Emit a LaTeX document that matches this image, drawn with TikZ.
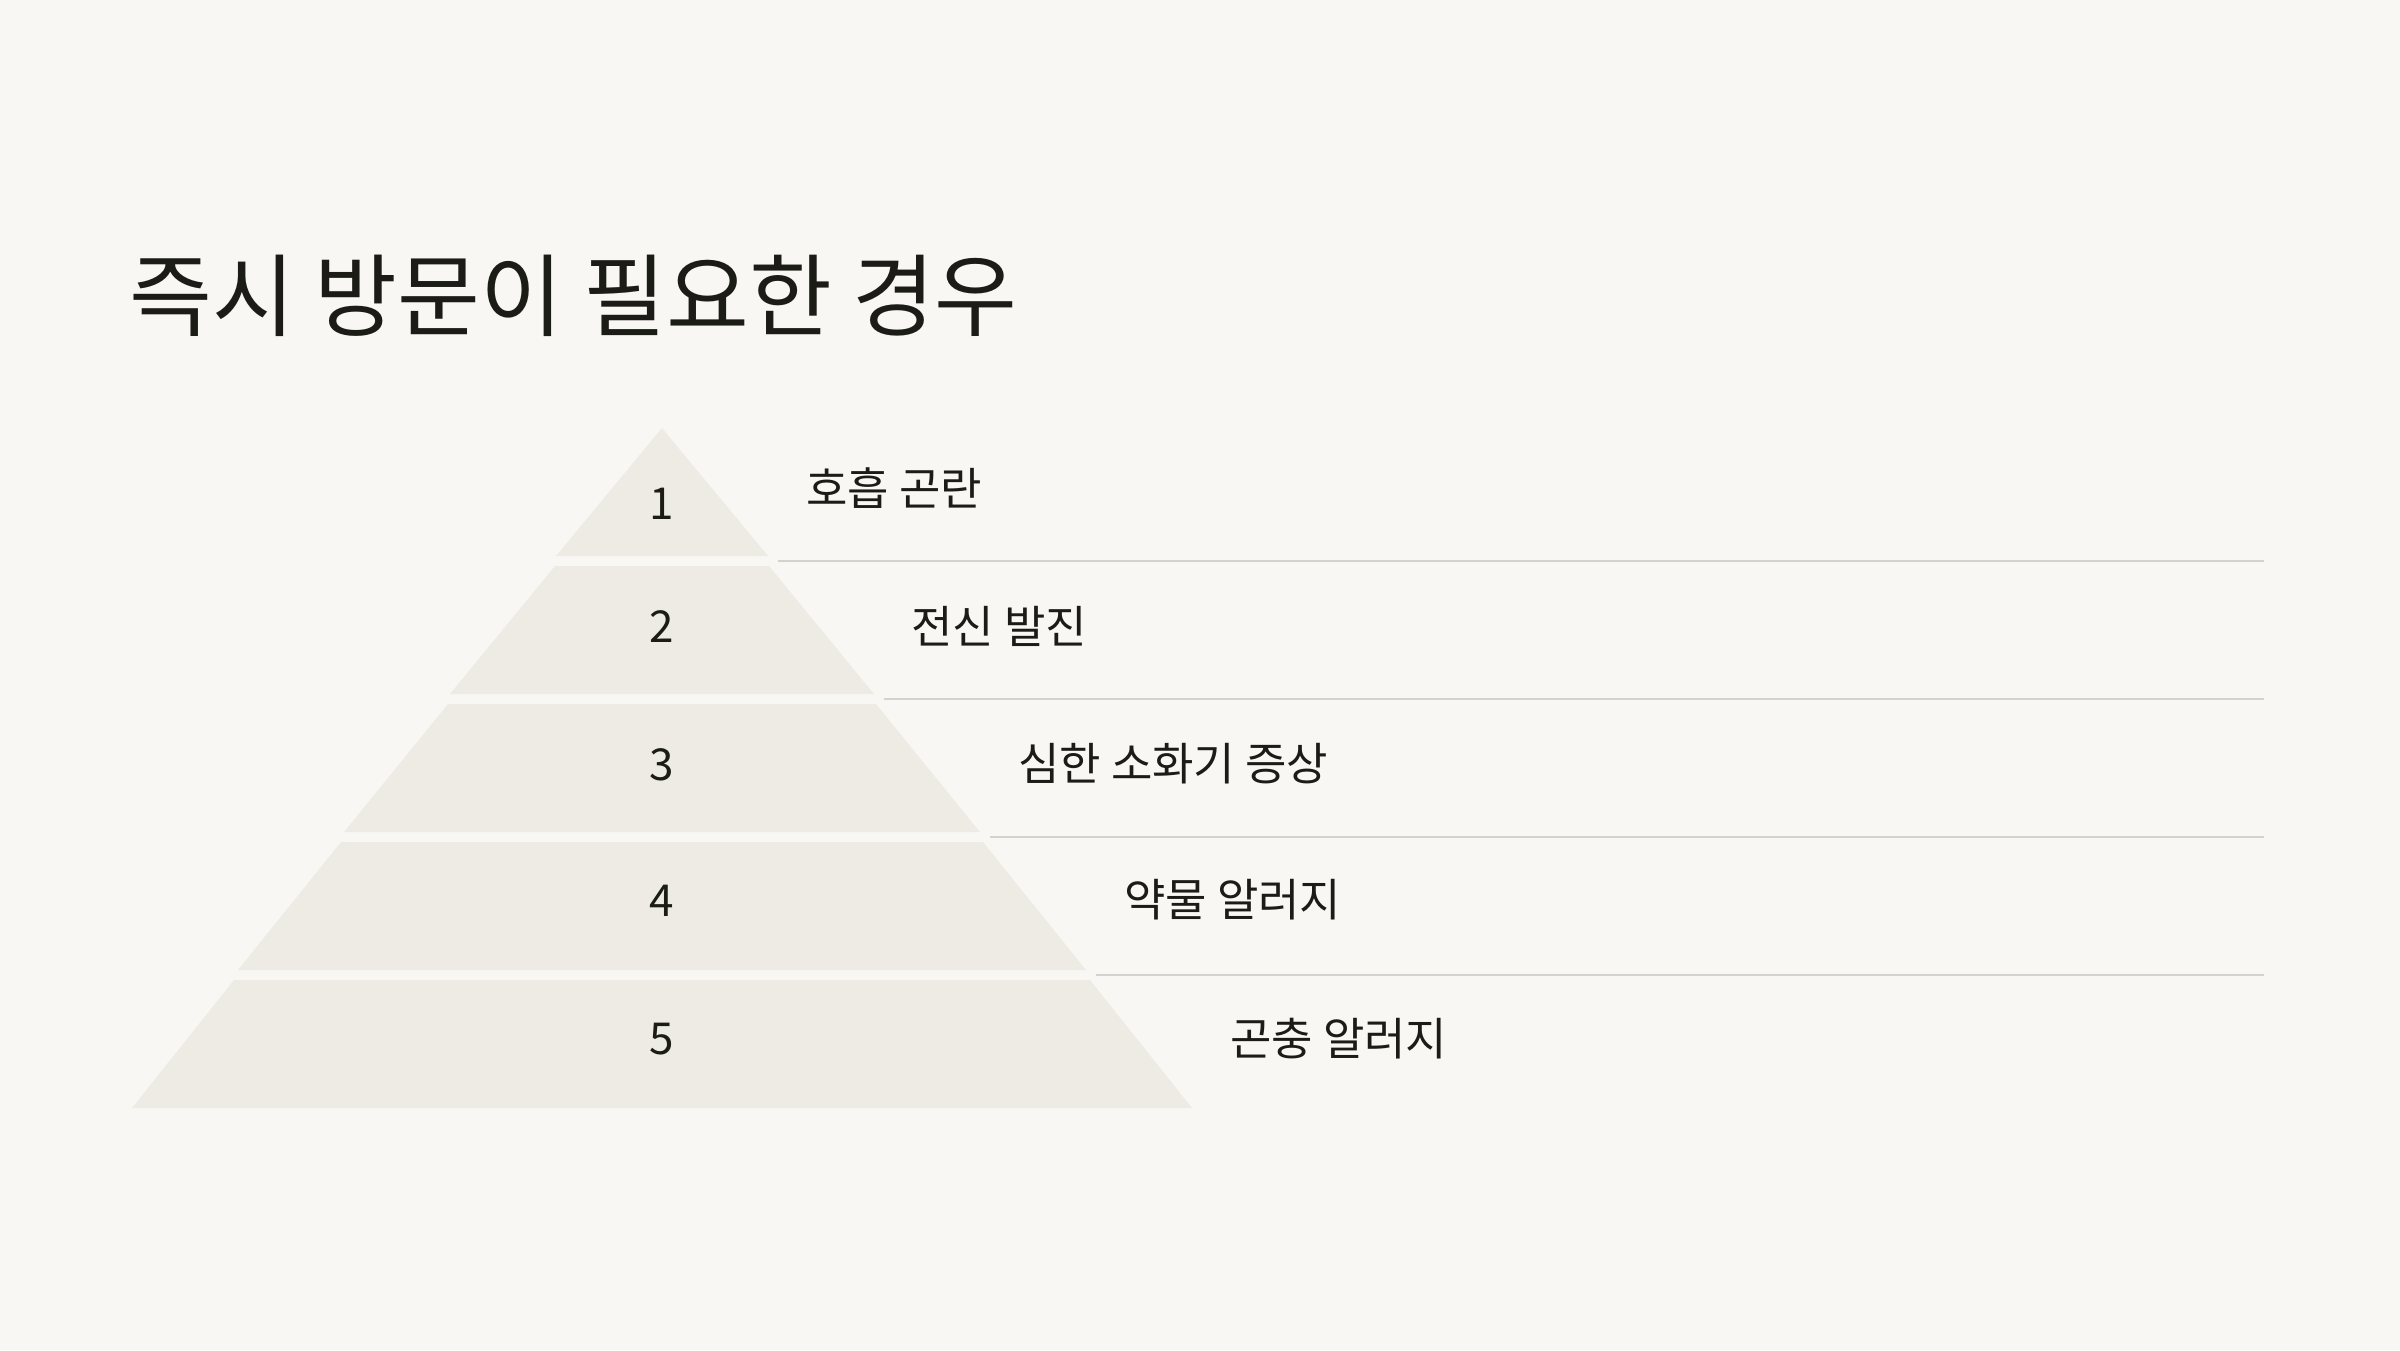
\documentclass[tikz,border=0pt]{standalone}
\usepackage{fontspec}
\setmainfont{Noto Sans CJK KR}
\definecolor{bgc}{HTML}{F8F7F3}
\definecolor{layerc}{HTML}{EDEBE4}
\definecolor{linec}{HTML}{D4D2CC}
\definecolor{textc}{HTML}{1C1C17}
\tikzset{
  layer/.style={fill=layerc, draw=none},
  sepline/.style={draw=linec, line width=2pt},
  numtxt/.style={inner sep=0pt, text=textc, font=\fontsize{44}{52}\selectfont},
  labtxt/.style={inner sep=0pt, anchor=west, text=textc, font=\fontsize{45}{54}\selectfont},
  titletxt/.style={inner sep=0pt, anchor=west, text=textc, font=\fontsize{90}{108}\selectfont}
}
\begin{document}
\begin{tikzpicture}[x=1pt,y=-1pt]
\fill[bgc] (0,0) rectangle (2400,1350);
\useasboundingbox (0,0) rectangle (2400,1350);
\node[titletxt] (title) at (129,296) {즉시 방문이 필요한 경우};
% layers
\foreach \k in {1,...,5}{
  \pgfmathsetmacro{\yt}{428+(\k-1)*138}
  \pgfmathsetmacro{\yb}{\yt+128}
  \pgfmathsetmacro{\ht}{(\k-1)*107}
  \pgfmathsetmacro{\hb}{\k*106}
  \fill[layer] (662-\ht,\yt) -- (662+\ht,\yt) -- (662+\hb,\yb) -- (662-\hb,\yb) -- cycle;
}
% separator lines
\foreach \k in {1,...,4}{
  \pgfmathsetmacro{\yl}{428+(\k-1)*138+133}
  \pgfmathsetmacro{\xl}{662+\k*106+10}
  \coordinate (ls\k) at (\xl,\yl);
  \coordinate (le\k) at (2264,\yl);
  \draw[sepline] (ls\k) -- (le\k);
}
% numbers
\node[numtxt] (n1) at (662,504) {1};
\node[numtxt] (n2) at (662,627) {2};
\node[numtxt] (n3) at (662,765) {3};
\node[numtxt] (n4) at (662,901) {4};
\node[numtxt] (n5) at (662,1039) {5};
% labels
\node[labtxt] (l1) at (806,488) {호흡 곤란};
\node[labtxt] (l2) at (911,626) {전신 발진};
\node[labtxt] (l3) at (1018,764) {심한 소화기 증상};
\node[labtxt] (l4) at (1124,900) {약물 알러지};
\node[labtxt] (l5) at (1230,1039) {곤충 알러지};
\end{tikzpicture}
\end{document}
